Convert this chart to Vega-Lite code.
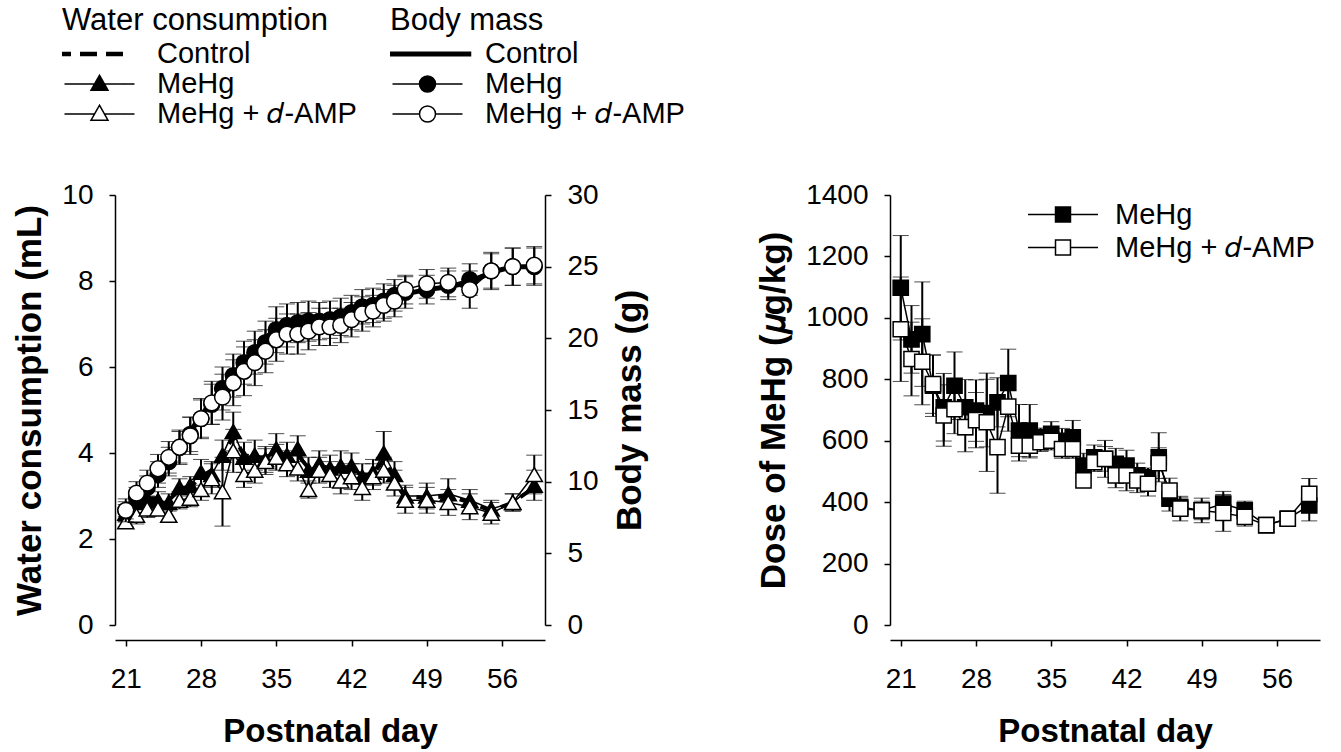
{
  "$schema": "https://vega.github.io/schema/vega-lite/v6.json",
  "padding": {"left": 12, "top": 6, "right": 5, "bottom": 5},
  "spacing": 345,
  "bounds": "flush",
  "datasets": {
    "left": [
      {"day":21,"measure":"water","group":"Control","mean":2.7},{"day":22,"measure":"water","group":"Control","mean":2.9},{"day":23,"measure":"water","group":"Control","mean":2.95},{"day":24,"measure":"water","group":"Control","mean":2.95},{"day":25,"measure":"water","group":"Control","mean":2.9},{"day":26,"measure":"water","group":"Control","mean":3.15},{"day":27,"measure":"water","group":"Control","mean":3.2},{"day":28,"measure":"water","group":"Control","mean":3.45},{"day":29,"measure":"water","group":"Control","mean":3.6},{"day":30,"measure":"water","group":"Control","mean":3.9},{"day":31,"measure":"water","group":"Control","mean":4.4},{"day":32,"measure":"water","group":"Control","mean":3.95},{"day":33,"measure":"water","group":"Control","mean":3.9},{"day":34,"measure":"water","group":"Control","mean":3.9},{"day":35,"measure":"water","group":"Control","mean":4.0},{"day":36,"measure":"water","group":"Control","mean":3.9},{"day":37,"measure":"water","group":"Control","mean":3.95},{"day":38,"measure":"water","group":"Control","mean":3.65},{"day":39,"measure":"water","group":"Control","mean":3.7},{"day":40,"measure":"water","group":"Control","mean":3.65},{"day":41,"measure":"water","group":"Control","mean":3.65},{"day":42,"measure":"water","group":"Control","mean":3.6},{"day":43,"measure":"water","group":"Control","mean":3.5},{"day":44,"measure":"water","group":"Control","mean":3.5},{"day":45,"measure":"water","group":"Control","mean":3.85},{"day":46,"measure":"water","group":"Control","mean":3.4},{"day":47,"measure":"water","group":"Control","mean":3.0},{"day":49,"measure":"water","group":"Control","mean":2.95},{"day":51,"measure":"water","group":"Control","mean":3.0},{"day":53,"measure":"water","group":"Control","mean":2.85},{"day":55,"measure":"water","group":"Control","mean":2.65},{"day":57,"measure":"water","group":"Control","mean":2.85},{"day":59,"measure":"water","group":"Control","mean":3.2},

      {"day":21,"measure":"water","group":"MeHg","mean":2.6,"sem":0.2},{"day":22,"measure":"water","group":"MeHg","mean":2.85,"sem":0.25},{"day":23,"measure":"water","group":"MeHg","mean":2.93,"sem":0.2},{"day":24,"measure":"water","group":"MeHg","mean":2.9,"sem":0.2},{"day":25,"measure":"water","group":"MeHg","mean":2.85,"sem":0.2},{"day":26,"measure":"water","group":"MeHg","mean":3.2,"sem":0.2},{"day":27,"measure":"water","group":"MeHg","mean":3.25,"sem":0.2},{"day":28,"measure":"water","group":"MeHg","mean":3.55,"sem":0.3},{"day":29,"measure":"water","group":"MeHg","mean":3.5,"sem":0.3},{"day":30,"measure":"water","group":"MeHg","mean":3.95,"sem":0.35},{"day":31,"measure":"water","group":"MeHg","mean":4.5,"sem":0.45},{"day":32,"measure":"water","group":"MeHg","mean":3.9,"sem":0.35},{"day":33,"measure":"water","group":"MeHg","mean":3.95,"sem":0.35},{"day":34,"measure":"water","group":"MeHg","mean":3.85,"sem":0.3},{"day":35,"measure":"water","group":"MeHg","mean":4.1,"sem":0.35},{"day":36,"measure":"water","group":"MeHg","mean":3.95,"sem":0.3},{"day":37,"measure":"water","group":"MeHg","mean":4.1,"sem":0.3},{"day":38,"measure":"water","group":"MeHg","mean":3.6,"sem":0.3},{"day":39,"measure":"water","group":"MeHg","mean":3.75,"sem":0.3},{"day":40,"measure":"water","group":"MeHg","mean":3.65,"sem":0.3},{"day":41,"measure":"water","group":"MeHg","mean":3.7,"sem":0.35},{"day":42,"measure":"water","group":"MeHg","mean":3.7,"sem":0.3},{"day":43,"measure":"water","group":"MeHg","mean":3.45,"sem":0.3},{"day":44,"measure":"water","group":"MeHg","mean":3.55,"sem":0.3},{"day":45,"measure":"water","group":"MeHg","mean":4.0,"sem":0.5},{"day":46,"measure":"water","group":"MeHg","mean":3.5,"sem":0.3},{"day":47,"measure":"water","group":"MeHg","mean":3.0,"sem":0.25},{"day":49,"measure":"water","group":"MeHg","mean":3.0,"sem":0.3},{"day":51,"measure":"water","group":"MeHg","mean":3.05,"sem":0.35},{"day":53,"measure":"water","group":"MeHg","mean":2.9,"sem":0.25},{"day":55,"measure":"water","group":"MeHg","mean":2.7,"sem":0.2},{"day":57,"measure":"water","group":"MeHg","mean":2.85,"sem":0.2},{"day":59,"measure":"water","group":"MeHg","mean":3.25,"sem":0.35},

      {"day":21,"measure":"water","group":"MeHg + d-AMP","mean":2.4,"sem":0.12},{"day":22,"measure":"water","group":"MeHg + d-AMP","mean":2.55,"sem":0.2},{"day":23,"measure":"water","group":"MeHg + d-AMP","mean":2.7,"sem":0.2},{"day":24,"measure":"water","group":"MeHg + d-AMP","mean":2.7,"sem":0.15},{"day":25,"measure":"water","group":"MeHg + d-AMP","mean":2.55,"sem":0.15},{"day":26,"measure":"water","group":"MeHg + d-AMP","mean":2.9,"sem":0.2},{"day":27,"measure":"water","group":"MeHg + d-AMP","mean":2.95,"sem":0.2},{"day":28,"measure":"water","group":"MeHg + d-AMP","mean":3.15,"sem":0.25},{"day":29,"measure":"water","group":"MeHg + d-AMP","mean":3.4,"sem":0.35},{"day":30,"measure":"water","group":"MeHg + d-AMP","mean":3.1,"sem":0.8},{"day":31,"measure":"water","group":"MeHg + d-AMP","mean":4.05,"sem":0.5},{"day":32,"measure":"water","group":"MeHg + d-AMP","mean":3.5,"sem":0.3},{"day":33,"measure":"water","group":"MeHg + d-AMP","mean":3.6,"sem":0.3},{"day":34,"measure":"water","group":"MeHg + d-AMP","mean":3.8,"sem":0.3},{"day":35,"measure":"water","group":"MeHg + d-AMP","mean":3.9,"sem":0.3},{"day":36,"measure":"water","group":"MeHg + d-AMP","mean":3.75,"sem":0.3},{"day":37,"measure":"water","group":"MeHg + d-AMP","mean":3.65,"sem":0.3},{"day":38,"measure":"water","group":"MeHg + d-AMP","mean":3.15,"sem":0.2},{"day":39,"measure":"water","group":"MeHg + d-AMP","mean":3.6,"sem":0.3},{"day":40,"measure":"water","group":"MeHg + d-AMP","mean":3.5,"sem":0.3},{"day":41,"measure":"water","group":"MeHg + d-AMP","mean":3.35,"sem":0.3},{"day":42,"measure":"water","group":"MeHg + d-AMP","mean":3.45,"sem":0.3},{"day":43,"measure":"water","group":"MeHg + d-AMP","mean":3.2,"sem":0.3},{"day":44,"measure":"water","group":"MeHg + d-AMP","mean":3.45,"sem":0.3},{"day":45,"measure":"water","group":"MeHg + d-AMP","mean":3.6,"sem":0.3},{"day":46,"measure":"water","group":"MeHg + d-AMP","mean":3.3,"sem":0.3},{"day":47,"measure":"water","group":"MeHg + d-AMP","mean":2.9,"sem":0.3},{"day":49,"measure":"water","group":"MeHg + d-AMP","mean":2.9,"sem":0.3},{"day":51,"measure":"water","group":"MeHg + d-AMP","mean":2.85,"sem":0.3},{"day":53,"measure":"water","group":"MeHg + d-AMP","mean":2.75,"sem":0.3},{"day":55,"measure":"water","group":"MeHg + d-AMP","mean":2.6,"sem":0.25},{"day":57,"measure":"water","group":"MeHg + d-AMP","mean":2.85,"sem":0.2},{"day":59,"measure":"water","group":"MeHg + d-AMP","mean":3.5,"sem":0.45},

      {"day":21,"measure":"mass","group":"Control","mean":8.1},{"day":22,"measure":"mass","group":"Control","mean":9.0},{"day":23,"measure":"mass","group":"Control","mean":9.8},{"day":24,"measure":"mass","group":"Control","mean":10.7},{"day":25,"measure":"mass","group":"Control","mean":11.6},{"day":26,"measure":"mass","group":"Control","mean":12.5},{"day":27,"measure":"mass","group":"Control","mean":13.5},{"day":28,"measure":"mass","group":"Control","mean":14.6},{"day":29,"measure":"mass","group":"Control","mean":15.6},{"day":30,"measure":"mass","group":"Control","mean":16.6},{"day":31,"measure":"mass","group":"Control","mean":17.5},{"day":32,"measure":"mass","group":"Control","mean":18.4},{"day":33,"measure":"mass","group":"Control","mean":19.2},{"day":34,"measure":"mass","group":"Control","mean":20.0},{"day":35,"measure":"mass","group":"Control","mean":20.7},{"day":36,"measure":"mass","group":"Control","mean":20.9},{"day":37,"measure":"mass","group":"Control","mean":21.1},{"day":38,"measure":"mass","group":"Control","mean":21.2},{"day":39,"measure":"mass","group":"Control","mean":21.2},{"day":40,"measure":"mass","group":"Control","mean":21.3},{"day":41,"measure":"mass","group":"Control","mean":21.6},{"day":42,"measure":"mass","group":"Control","mean":21.9},{"day":43,"measure":"mass","group":"Control","mean":22.2},{"day":44,"measure":"mass","group":"Control","mean":22.4},{"day":45,"measure":"mass","group":"Control","mean":22.6},{"day":46,"measure":"mass","group":"Control","mean":22.9},{"day":47,"measure":"mass","group":"Control","mean":23.1},{"day":49,"measure":"mass","group":"Control","mean":23.4},{"day":51,"measure":"mass","group":"Control","mean":23.6},{"day":53,"measure":"mass","group":"Control","mean":23.9},{"day":55,"measure":"mass","group":"Control","mean":24.6},{"day":57,"measure":"mass","group":"Control","mean":25.0},{"day":59,"measure":"mass","group":"Control","mean":25.0},

      {"day":21,"measure":"mass","group":"MeHg","mean":8.0,"sem":0.6},{"day":22,"measure":"mass","group":"MeHg","mean":8.9,"sem":0.7},{"day":23,"measure":"mass","group":"MeHg","mean":9.6,"sem":0.8},{"day":24,"measure":"mass","group":"MeHg","mean":10.5,"sem":0.9},{"day":25,"measure":"mass","group":"MeHg","mean":11.4,"sem":1.0},{"day":26,"measure":"mass","group":"MeHg","mean":12.4,"sem":1.1},{"day":27,"measure":"mass","group":"MeHg","mean":13.3,"sem":1.2},{"day":28,"measure":"mass","group":"MeHg","mean":14.4,"sem":1.3},{"day":29,"measure":"mass","group":"MeHg","mean":15.4,"sem":1.4},{"day":30,"measure":"mass","group":"MeHg","mean":16.5,"sem":1.5},{"day":31,"measure":"mass","group":"MeHg","mean":17.4,"sem":1.5},{"day":32,"measure":"mass","group":"MeHg","mean":18.3,"sem":1.5},{"day":33,"measure":"mass","group":"MeHg","mean":19.0,"sem":1.5},{"day":34,"measure":"mass","group":"MeHg","mean":19.7,"sem":1.5},{"day":35,"measure":"mass","group":"MeHg","mean":20.6,"sem":1.6},{"day":36,"measure":"mass","group":"MeHg","mean":20.9,"sem":1.5},{"day":37,"measure":"mass","group":"MeHg","mean":21.1,"sem":1.4},{"day":38,"measure":"mass","group":"MeHg","mean":21.2,"sem":1.4},{"day":39,"measure":"mass","group":"MeHg","mean":21.2,"sem":1.3},{"day":40,"measure":"mass","group":"MeHg","mean":21.3,"sem":1.3},{"day":41,"measure":"mass","group":"MeHg","mean":21.5,"sem":1.3},{"day":42,"measure":"mass","group":"MeHg","mean":21.8,"sem":1.2},{"day":43,"measure":"mass","group":"MeHg","mean":22.2,"sem":1.2},{"day":44,"measure":"mass","group":"MeHg","mean":22.3,"sem":1.2},{"day":45,"measure":"mass","group":"MeHg","mean":22.6,"sem":1.2},{"day":46,"measure":"mass","group":"MeHg","mean":23.0,"sem":1.1},{"day":47,"measure":"mass","group":"MeHg","mean":23.2,"sem":1.1},{"day":49,"measure":"mass","group":"MeHg","mean":23.4,"sem":1.0},{"day":51,"measure":"mass","group":"MeHg","mean":23.7,"sem":1.0},{"day":53,"measure":"mass","group":"MeHg","mean":24.1,"sem":1.1},{"day":55,"measure":"mass","group":"MeHg","mean":24.7,"sem":1.2},{"day":57,"measure":"mass","group":"MeHg","mean":25.0,"sem":1.3},{"day":59,"measure":"mass","group":"MeHg","mean":25.0,"sem":1.3},

      {"day":21,"measure":"mass","group":"MeHg + d-AMP","mean":8.0,"sem":0.8},{"day":22,"measure":"mass","group":"MeHg + d-AMP","mean":9.2,"sem":0.8},{"day":23,"measure":"mass","group":"MeHg + d-AMP","mean":9.9,"sem":0.9},{"day":24,"measure":"mass","group":"MeHg + d-AMP","mean":10.9,"sem":1.0},{"day":25,"measure":"mass","group":"MeHg + d-AMP","mean":11.7,"sem":1.1},{"day":26,"measure":"mass","group":"MeHg + d-AMP","mean":12.4,"sem":1.2},{"day":27,"measure":"mass","group":"MeHg + d-AMP","mean":13.2,"sem":1.3},{"day":28,"measure":"mass","group":"MeHg + d-AMP","mean":14.4,"sem":1.4},{"day":29,"measure":"mass","group":"MeHg + d-AMP","mean":15.5,"sem":1.5},{"day":30,"measure":"mass","group":"MeHg + d-AMP","mean":15.9,"sem":1.6},{"day":31,"measure":"mass","group":"MeHg + d-AMP","mean":16.9,"sem":1.6},{"day":32,"measure":"mass","group":"MeHg + d-AMP","mean":17.7,"sem":1.7},{"day":33,"measure":"mass","group":"MeHg + d-AMP","mean":18.3,"sem":1.6},{"day":34,"measure":"mass","group":"MeHg + d-AMP","mean":19.1,"sem":1.5},{"day":35,"measure":"mass","group":"MeHg + d-AMP","mean":19.9,"sem":1.5},{"day":36,"measure":"mass","group":"MeHg + d-AMP","mean":20.3,"sem":1.4},{"day":37,"measure":"mass","group":"MeHg + d-AMP","mean":20.3,"sem":1.4},{"day":38,"measure":"mass","group":"MeHg + d-AMP","mean":20.5,"sem":1.3},{"day":39,"measure":"mass","group":"MeHg + d-AMP","mean":20.8,"sem":1.3},{"day":40,"measure":"mass","group":"MeHg + d-AMP","mean":20.8,"sem":1.3},{"day":41,"measure":"mass","group":"MeHg + d-AMP","mean":20.9,"sem":1.2},{"day":42,"measure":"mass","group":"MeHg + d-AMP","mean":21.3,"sem":1.2},{"day":43,"measure":"mass","group":"MeHg + d-AMP","mean":21.7,"sem":1.2},{"day":44,"measure":"mass","group":"MeHg + d-AMP","mean":21.9,"sem":1.1},{"day":45,"measure":"mass","group":"MeHg + d-AMP","mean":22.3,"sem":1.1},{"day":46,"measure":"mass","group":"MeHg + d-AMP","mean":22.6,"sem":1.1},{"day":47,"measure":"mass","group":"MeHg + d-AMP","mean":23.4,"sem":1.0},{"day":49,"measure":"mass","group":"MeHg + d-AMP","mean":23.8,"sem":1.0},{"day":51,"measure":"mass","group":"MeHg + d-AMP","mean":23.9,"sem":1.0},{"day":53,"measure":"mass","group":"MeHg + d-AMP","mean":23.4,"sem":1.3},{"day":55,"measure":"mass","group":"MeHg + d-AMP","mean":24.7,"sem":1.3},{"day":57,"measure":"mass","group":"MeHg + d-AMP","mean":25.0,"sem":1.3},{"day":59,"measure":"mass","group":"MeHg + d-AMP","mean":25.1,"sem":1.3}
    ],
    "dose": [
      {"day":21,"group":"MeHg","mean":1098,"sem":170},{"day":22,"group":"MeHg","mean":930,"sem":110},{"day":23,"group":"MeHg","mean":947,"sem":170},{"day":24,"group":"MeHg","mean":779,"sem":100},{"day":25,"group":"MeHg","mean":709,"sem":110},{"day":26,"group":"MeHg","mean":779,"sem":110},{"day":27,"group":"MeHg","mean":709,"sem":90},{"day":28,"group":"MeHg","mean":698,"sem":100},{"day":29,"group":"MeHg","mean":690,"sem":110},{"day":30,"group":"MeHg","mean":725,"sem":80},{"day":31,"group":"MeHg","mean":788,"sem":110},{"day":32,"group":"MeHg","mean":633,"sem":85},{"day":33,"group":"MeHg","mean":633,"sem":85},{"day":34,"group":"MeHg","mean":611,"sem":30},{"day":35,"group":"MeHg","mean":622,"sem":40},{"day":36,"group":"MeHg","mean":600,"sem":40},{"day":37,"group":"MeHg","mean":611,"sem":55},{"day":38,"group":"MeHg","mean":519,"sem":40},{"day":39,"group":"MeHg","mean":546,"sem":40},{"day":40,"group":"MeHg","mean":541,"sem":60},{"day":41,"group":"MeHg","mean":525,"sem":50},{"day":42,"group":"MeHg","mean":519,"sem":50},{"day":43,"group":"MeHg","mean":487,"sem":40},{"day":44,"group":"MeHg","mean":481,"sem":30},{"day":45,"group":"MeHg","mean":546,"sem":80},{"day":46,"group":"MeHg","mean":411,"sem":40},{"day":47,"group":"MeHg","mean":384,"sem":30},{"day":49,"group":"MeHg","mean":373,"sem":30},{"day":51,"group":"MeHg","mean":395,"sem":40},{"day":53,"group":"MeHg","mean":373,"sem":30},{"day":55,"group":"MeHg","mean":325,"sem":25},{"day":57,"group":"MeHg","mean":346,"sem":20},{"day":59,"group":"MeHg","mean":389,"sem":50},
      {"day":21,"group":"MeHg + d-AMP","mean":963,"sem":170},{"day":22,"group":"MeHg + d-AMP","mean":866,"sem":120},{"day":23,"group":"MeHg + d-AMP","mean":857,"sem":140},{"day":24,"group":"MeHg + d-AMP","mean":784,"sem":95},{"day":25,"group":"MeHg + d-AMP","mean":682,"sem":100},{"day":26,"group":"MeHg + d-AMP","mean":703,"sem":80},{"day":27,"group":"MeHg + d-AMP","mean":644,"sem":80},{"day":28,"group":"MeHg + d-AMP","mean":667,"sem":90},{"day":29,"group":"MeHg + d-AMP","mean":660,"sem":160},{"day":30,"group":"MeHg + d-AMP","mean":579,"sem":150},{"day":31,"group":"MeHg + d-AMP","mean":711,"sem":80},{"day":32,"group":"MeHg + d-AMP","mean":584,"sem":50},{"day":33,"group":"MeHg + d-AMP","mean":584,"sem":40},{"day":34,"group":"MeHg + d-AMP","mean":595,"sem":30},{"day":35,"group":"MeHg + d-AMP","mean":600,"sem":30},{"day":36,"group":"MeHg + d-AMP","mean":573,"sem":30},{"day":37,"group":"MeHg + d-AMP","mean":573,"sem":30},{"day":38,"group":"MeHg + d-AMP","mean":471,"sem":20},{"day":39,"group":"MeHg + d-AMP","mean":530,"sem":30},{"day":40,"group":"MeHg + d-AMP","mean":541,"sem":40},{"day":41,"group":"MeHg + d-AMP","mean":487,"sem":40},{"day":42,"group":"MeHg + d-AMP","mean":487,"sem":50},{"day":43,"group":"MeHg + d-AMP","mean":471,"sem":40},{"day":44,"group":"MeHg + d-AMP","mean":460,"sem":40},{"day":45,"group":"MeHg + d-AMP","mean":527,"sem":50},{"day":46,"group":"MeHg + d-AMP","mean":438,"sem":40},{"day":47,"group":"MeHg + d-AMP","mean":379,"sem":40},{"day":49,"group":"MeHg + d-AMP","mean":373,"sem":40},{"day":51,"group":"MeHg + d-AMP","mean":365,"sem":60},{"day":53,"group":"MeHg + d-AMP","mean":352,"sem":30},{"day":55,"group":"MeHg + d-AMP","mean":325,"sem":20},{"day":57,"group":"MeHg + d-AMP","mean":346,"sem":25},{"day":59,"group":"MeHg + d-AMP","mean":427,"sem":50}
    ]
  },
  "hconcat": [
    {
      "width": 430,
      "height": 430,
      "data": {"name": "left"},
      "encoding": {
        "x": {"field": "day", "type": "quantitative", "scale": {"domain": [20, 60], "nice": false, "zero": false},
              "axis": {"values": [21, 28, 35, 42, 49, 56], "title": "Postnatal day", "offset": 15}}
      },
      "layer": [
        {
          "transform": [{"filter": "datum.measure === 'water'"}],
          "encoding": {
            "y": {"field": "mean", "type": "quantitative", "scale": {"domain": [0, 10], "nice": false},
                  "axis": {"values": [0, 2, 4, 6, 8, 10], "title": "Water consumption (mL)", "orient": "left"}}
          },
          "layer": [
            {"transform": [{"filter": "datum.group !== 'Control'"}],
             "mark": {"type": "errorbar", "ticks": {"size": 16, "strokeWidth": 2, "color": "black"}, "rule": {"strokeWidth": 2, "color": "black"}},
             "encoding": {"yError": {"field": "sem"}}},
            {"transform": [{"filter": "datum.group === 'Control'"}],
             "mark": {"type": "line", "stroke": "black", "strokeWidth": 4, "strokeDash": [14, 8]}},
            {"transform": [{"filter": "datum.group !== 'Control'"}],
             "mark": {"type": "line", "stroke": "black", "strokeWidth": 1.5},
             "encoding": {"detail": {"field": "group"}}},
            {"transform": [{"filter": "datum.group !== 'Control'"}],
             "mark": {"type": "point", "shape": "triangle-up", "filled": true, "stroke": "black", "strokeWidth": 1.5, "size": 260, "opacity": 1},
             "encoding": {
               "fill": {"condition": {"test": "datum.group === 'MeHg'", "value": "black"}, "value": "white"}
             }},
            {"transform": [{"filter": "false"}],
             "mark": {"type": "point", "filled": true, "stroke": "black", "opacity": 1},
             "encoding": {
               "shape": {"field": "group", "type": "nominal",
                 "scale": {"domain": ["Control", "MeHg", "MeHg + d-AMP"],
                           "range": ["M-1.3,0H0.75", "M-1,0H-0.14M0.14,0H1M0,-0.25L0.243,0.18L-0.243,0.18Z", "M-1,0H-0.14M0.14,0H1M0,-0.25L0.243,0.18L-0.243,0.18Z"]},
                 "legend": {
                   "title": "Water consumption", "orient": "none", "legendX": -53, "legendY": -189,
                   "symbolSize": 4900, "clipHeight": 30, "rowPadding": 0, "titlePadding": 2, "labelOffset": 20, "padding": 0,
                   "symbolOpacity": 1,
                   "labelExpr": "trim(datum.label) === 'MeHg + d-AMP' ? 'MeHg + 𝑑-AMP' : trim(datum.label)"
                 }},
               "fill": {"field": "group", "type": "nominal",
                 "scale": {"domain": ["Control", "MeHg", "MeHg + d-AMP"], "range": ["white", "black", "white"]}},
               "strokeWidth": {"field": "group", "type": "nominal",
                 "scale": {"type": "ordinal", "domain": ["Control", "MeHg", "MeHg + d-AMP"], "range": [4.5, 1.5, 1.5]}},
               "strokeDash": {"field": "group", "type": "nominal",
                 "scale": {"domain": ["Control", "MeHg", "MeHg + d-AMP"], "range": [[17, 9], [1, 0], [1, 0]]}}
             }}
          ]
        },
        {
          "transform": [{"filter": "datum.measure === 'mass'"}],
          "encoding": {
            "y": {"field": "mean", "type": "quantitative", "scale": {"domain": [0, 30], "nice": false},
                  "axis": {"values": [0, 5, 10, 15, 20, 25, 30], "title": "Body mass (g)", "orient": "right", "titleAngle": 270, "titleBaseline": "top"}}
          },
          "layer": [
            {"transform": [{"filter": "datum.group !== 'Control'"}],
             "mark": {"type": "errorbar", "ticks": {"size": 16, "strokeWidth": 2, "color": "black"}, "rule": {"strokeWidth": 2, "color": "black"}},
             "encoding": {"yError": {"field": "sem"}}},
            {"transform": [{"filter": "datum.group === 'Control'"}],
             "mark": {"type": "line", "stroke": "black", "strokeWidth": 5}},
            {"transform": [{"filter": "datum.group !== 'Control'"}],
             "mark": {"type": "line", "stroke": "black", "strokeWidth": 1.5},
             "encoding": {"detail": {"field": "group"}}},
            {"transform": [{"filter": "datum.group !== 'Control'"}],
             "mark": {"type": "point", "shape": "circle", "filled": true, "stroke": "black", "strokeWidth": 1.5, "size": 250, "opacity": 1},
             "encoding": {
               "fill": {"condition": {"test": "datum.group === 'MeHg'", "value": "black"}, "value": "white"}
             }},
            {"transform": [{"filter": "false"}],
             "mark": {"type": "point", "filled": true, "stroke": "black", "opacity": 1},
             "encoding": {
               "shape": {"field": "group", "type": "nominal",
                 "scale": {"domain": ["Control ", "MeHg ", "MeHg + d-AMP "],
                           "range": ["M-1.25,0H1.25", "M-1,0H-0.229M0.229,0H1M0.229,0A0.229,0.229,0,1,1,-0.229,0A0.229,0.229,0,1,1,0.229,0Z", "M-1,0H-0.229M0.229,0H1M0.229,0A0.229,0.229,0,1,1,-0.229,0A0.229,0.229,0,1,1,0.229,0Z"]},
                 "legend": {
                   "title": "Body mass", "orient": "none", "legendX": 275, "legendY": -189,
                   "symbolSize": 4900, "clipHeight": 30, "rowPadding": 0, "titlePadding": 2, "labelOffset": 20, "padding": 0,
                   "symbolOpacity": 1,
                   "labelExpr": "trim(datum.label) === 'MeHg + d-AMP' ? 'MeHg + 𝑑-AMP' : trim(datum.label)"
                 }},
               "fill": {"field": "group", "type": "nominal",
                 "scale": {"domain": ["Control ", "MeHg ", "MeHg + d-AMP "], "range": ["white", "black", "white"]}},
               "strokeWidth": {"field": "group", "type": "nominal",
                 "scale": {"type": "ordinal", "domain": ["Control ", "MeHg ", "MeHg + d-AMP "], "range": [5, 1.5, 1.5]}}
             }}
          ]
        }
      ],
      "resolve": {"scale": {"y": "independent", "shape": "independent", "fill": "independent", "strokeWidth": "independent", "strokeDash": "independent"}}
    },
    {
      "width": 430,
      "height": 430,
      "data": {"name": "dose"},
      "encoding": {
        "x": {"field": "day", "type": "quantitative", "scale": {"domain": [20, 60], "nice": false, "zero": false},
              "axis": {"values": [21, 28, 35, 42, 49, 56], "title": "Postnatal day", "offset": 15}},
        "y": {"field": "mean", "type": "quantitative", "scale": {"domain": [0, 1400], "nice": false},
              "axis": {"values": [0, 200, 400, 600, 800, 1000, 1200, 1400], "format": "d", "title": "Dose of MeHg (𝜇g/kg)"}}
      },
      "layer": [
        {"mark": {"type": "errorbar", "ticks": {"size": 16, "strokeWidth": 2, "color": "black"}, "rule": {"strokeWidth": 2, "color": "black"}},
         "encoding": {"yError": {"field": "sem"}}},
        {"mark": {"type": "line", "stroke": "black", "strokeWidth": 1.5},
         "encoding": {"detail": {"field": "group"}}},
        {"mark": {"type": "point", "shape": "square", "filled": true, "stroke": "black", "strokeWidth": 1.5, "size": 230, "opacity": 1},
         "encoding": {
           "fill": {"condition": {"test": "datum.group === 'MeHg'", "value": "black"}, "value": "white"}
         }},
        {"transform": [{"filter": "false"}],
         "mark": {"type": "point", "filled": true, "stroke": "black", "strokeWidth": 1.5, "opacity": 1},
         "encoding": {
           "shape": {"field": "group", "type": "nominal",
             "scale": {"domain": ["MeHg", "MeHg + d-AMP"],
                       "range": ["M-1,0H-0.214M0.214,0H1M-0.214,-0.214H0.214V0.214H-0.214Z", "M-1,0H-0.214M0.214,0H1M-0.214,-0.214H0.214V0.214H-0.214Z"]},
             "legend": {
               "title": null, "orient": "none", "legendX": 912, "legendY": 3,
               "symbolSize": 4900, "clipHeight": 33, "rowPadding": 0, "labelOffset": 16, "padding": 0,
               "symbolOpacity": 1,
               "labelExpr": "datum.label === 'MeHg + d-AMP' ? 'MeHg + 𝑑-AMP' : datum.label"
             }},
           "fill": {"field": "group", "type": "nominal",
             "scale": {"domain": ["MeHg", "MeHg + d-AMP"], "range": ["black", "white"]}}
         }}
      ]
    }
  ],
  "config": {
    "font": "Liberation Sans",
    "view": {"stroke": null},
    "background": "white",
    "axis": {
      "grid": false, "domainColor": "black", "tickColor": "black", "labelColor": "black", "titleColor": "black",
      "labelFont": "Liberation Sans", "titleFont": "Liberation Sans", "labelFontSize": 28, "titleFontSize": 35,
      "titleFontWeight": "bold", "domainWidth": 1.5, "tickWidth": 1.5, "tickSize": 6, "labelPadding": 16, "titlePadding": 14,
      "labelFlush": false, "labelOverlap": false
    },
    "axisX": {"labelPadding": 19, "titleFontSize": 33, "titlePadding": 22},
    "legend": {
      "labelFont": "Liberation Sans", "titleFont": "Liberation Sans", "labelFontSize": 29, "titleFontSize": 31,
      "titleFontWeight": "normal", "labelColor": "black", "titleColor": "black", "labelLimit": 400, "titleLimit": 400
    }
  }
}
